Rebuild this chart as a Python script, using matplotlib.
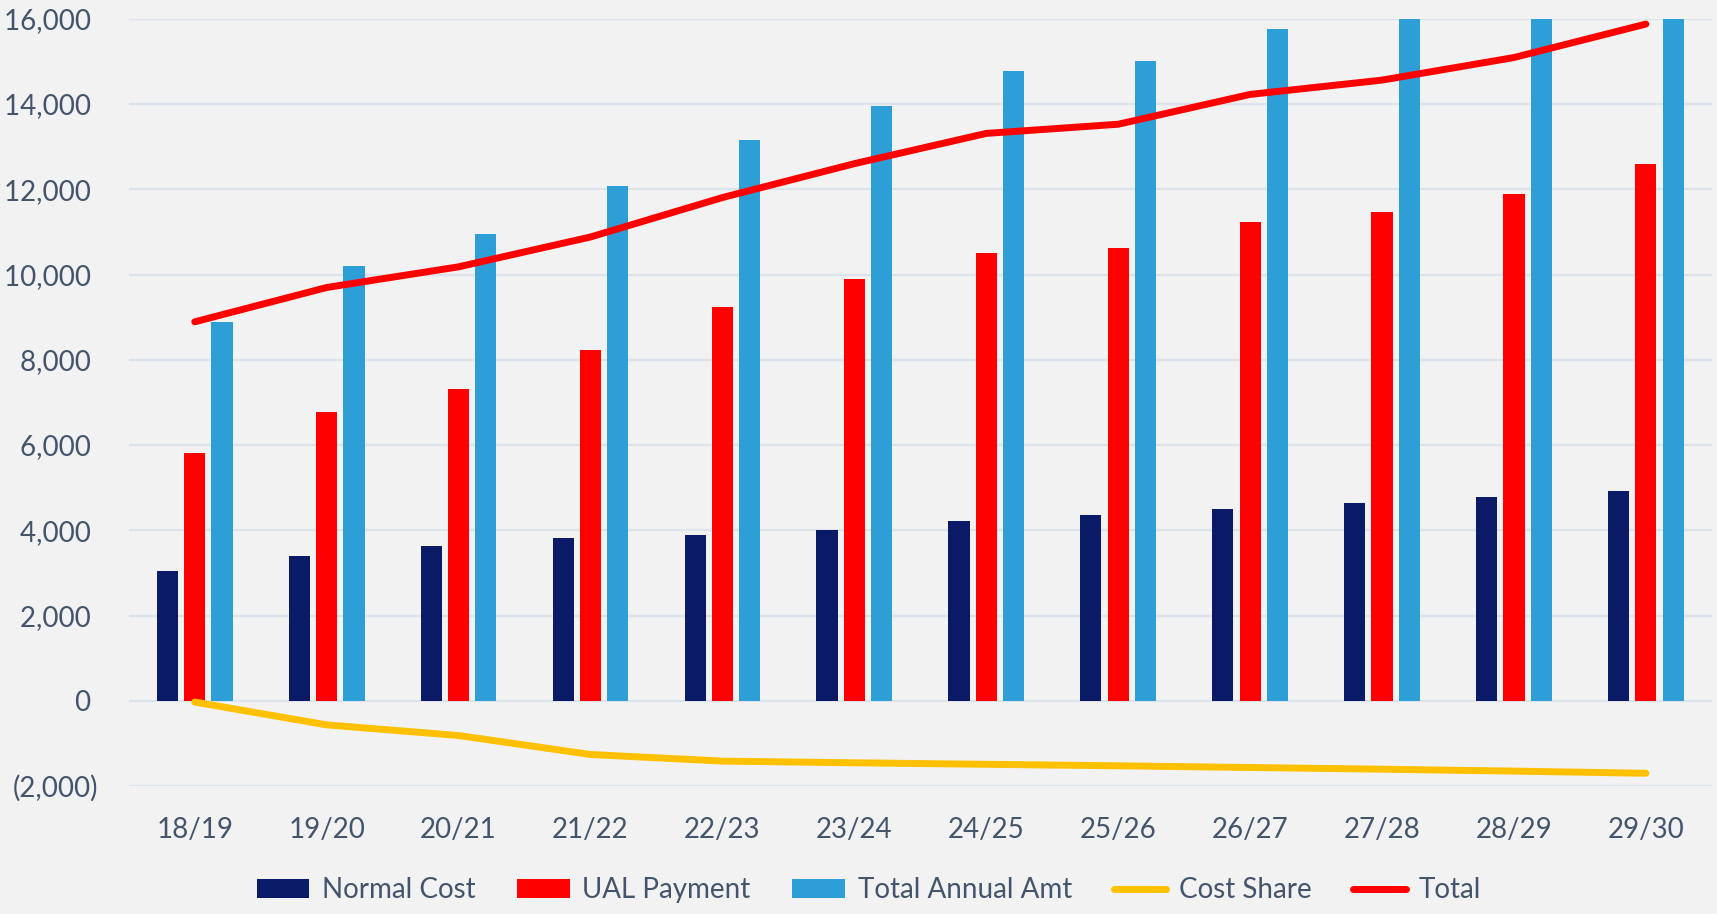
import numpy as np
import matplotlib
matplotlib.use("Agg")
import matplotlib.pyplot as plt
from matplotlib.ticker import FuncFormatter

# data
years = ["18/19", "19/20", "20/21", "21/22", "22/23", "23/24",
         "24/25", "25/26", "26/27", "27/28", "28/29", "29/30"]
normal_cost = [3040, 3395, 3620, 3825, 3880, 4015, 4225, 4365, 4505, 4650, 4780, 4920]
ual_payment = [5820, 6780, 7315, 8240, 9245, 9905, 10500, 10615, 11220, 11455, 11900, 12595]
total_annual = [8880, 10210, 10960, 12085, 13150, 13950, 14765, 15010, 15750, 16100, 16680, 17510]
cost_share = [-30, -565, -815, -1260, -1415, -1455, -1490, -1525, -1565, -1605, -1650, -1700]
total = [8890, 9695, 10180, 10880, 11805, 12600, 13310, 13525, 14225, 14560, 15090, 15875]

navy = "#0B1A66"
red = "#FF0000"
blue = "#2E9ED7"
yellow = "#FFC000"
txtcol = "#44546A"
bg = "#F2F2F2"

plt.rcParams["font.family"] = ["Lato", "DejaVu Sans"]

fig = plt.figure(figsize=(17.17, 9.14), dpi=100, facecolor=bg)
ax = fig.add_axes([0.075, 0.140, 0.922, 0.8395], facecolor=bg)

x = np.arange(len(years))
w = 0.16
off = 0.207
b1 = ax.bar(x - off, normal_cost, w, color=navy, label="Normal Cost", zorder=2)
b2 = ax.bar(x, ual_payment, w, color=red, label="UAL Payment", zorder=2)
b3 = ax.bar(x + off, total_annual, w, color=blue, label="Total Annual Amt", zorder=2)
l1, = ax.plot(x, cost_share, color=yellow, lw=5, solid_capstyle="round", label="Cost Share", zorder=3)
l2, = ax.plot(x, total, color=red, lw=5, solid_capstyle="round", label="Total", zorder=3)

ax.set_xlim(-0.5, 11.5)
ax.set_ylim(-2000, 16000)
ax.set_yticks(range(-2000, 16001, 2000))

def fmt(v, pos):
    if v < 0:
        return "({:,.0f})".format(-v)
    return "{:,.0f} ".format(v)

ax.yaxis.set_major_formatter(FuncFormatter(fmt))
ax.set_xticks(x)
ax.set_xticklabels(years)
ax.tick_params(axis="both", length=0, labelsize=20, colors=txtcol)
ax.tick_params(axis="y", pad=22)
ax.tick_params(axis="x", pad=22)
ax.grid(axis="y", color="#DCE3EA", lw=1.6, zorder=0)
for s in ax.spines.values():
    s.set_visible(False)

leg = fig.legend([b1, b2, b3, l1, l2],
                 ["Normal Cost", "UAL Payment", "Total Annual Amt", "Cost Share", "Total"],
                 loc="center", bbox_to_anchor=(0.506, 0.026), ncol=5, frameon=False,
                 fontsize=20, handlelength=1.9, handleheight=0.65, handletextpad=0.45,
                 columnspacing=1.5, labelcolor=txtcol)

fig.savefig("out.png", dpi=100, facecolor=bg)
